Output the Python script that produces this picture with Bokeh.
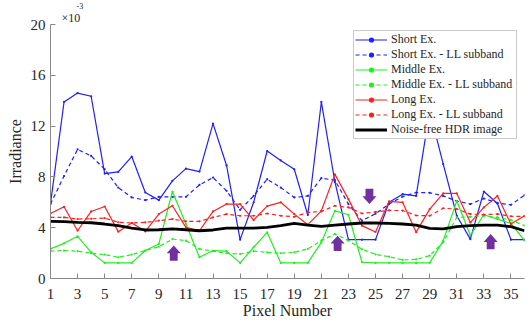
from bokeh.plotting import figure
from bokeh.models import Range1d, FixedTicker, Legend, LegendItem, Title
from bokeh.embed import file_html
from bokeh.resources import INLINE

# ---------------- data (irradiance in units of 1e-3) ----------------
pixel = list(range(1, 37))

short_ex = [5.9, 13.9, 14.6, 14.35, 8.26, 8.39, 9.6, 6.77, 6.17, 7.69, 8.65, 8.42,
            12.2, 8.9, 3.06, 6.0, 10.04, 9.3, 8.6, 5.0, 13.9, 7.6, 3.06, 3.06,
            3.06, 6.0, 6.64, 6.5, 13.2, 9.0, 4.94, 3.1, 6.85, 5.9, 3.06, 3.06]
short_ll = [5.86, 8.07, 10.17, 9.65, 8.6, 7.16, 6.38, 6.17, 6.43, 6.43, 6.43, 7.37,
            7.95, 6.9, 5.41, 6.5, 7.82, 7.16, 6.38, 6.5, 7.9, 7.74, 5.86, 4.55,
            5.1, 5.86, 6.45, 6.77, 6.75, 6.5, 6.1, 5.86, 6.3, 5.95, 5.8, 6.56]
middle_ex = [2.33, 2.77, 3.32, 2.06, 1.23, 1.23, 1.23, 2.2, 2.72, 6.85, 4.29, 1.67,
             2.2, 2.15, 1.23, 2.46, 3.63, 1.23, 1.23, 1.23, 2.85, 5.33, 5.02, 1.28,
             1.23, 1.23, 1.23, 1.23, 1.23, 2.98, 6.1, 3.4, 5.02, 4.68, 4.34, 2.98]
middle_ll = [2.15, 2.2, 2.15, 1.99, 1.88, 1.67, 1.88, 2.2, 2.5, 3.11, 2.98, 2.33,
             2.15, 1.99, 1.93, 2.15, 2.06, 1.99, 2.06, 2.33, 2.98, 3.5, 2.98, 2.3,
             1.9, 1.72, 1.46, 1.5, 1.8, 2.85, 4.81, 4.86, 4.94, 4.81, 4.6, 4.16]
long_ex = [5.12, 5.65, 3.76, 5.28, 5.67, 3.69, 4.37, 3.71, 5.07, 5.73, 4.03, 3.76,
           5.28, 5.86, 5.86, 4.6, 5.7, 6.0, 5.07, 4.24, 5.33, 8.2, 6.25, 4.16,
           3.66, 6.08, 6.0, 3.65, 5.46, 6.7, 6.7, 4.4, 5.6, 6.5, 4.29, 4.94]
long_ll = [4.81, 4.81, 4.68, 4.7, 4.76, 4.42, 4.37, 4.42, 4.55, 4.68, 4.5, 4.5,
           4.81, 5.07, 4.94, 4.94, 5.12, 4.94, 4.86, 5.2, 5.28, 5.73, 5.6, 5.12,
           5.24, 5.36, 5.35, 4.96, 4.94, 5.53, 5.47, 5.07, 5.03, 5.07, 4.9, 4.88]
hdr = [4.5, 4.48, 4.42, 4.39, 4.29, 4.16, 3.97, 3.82, 3.84, 3.9, 3.84, 3.76,
       3.82, 3.97, 3.97, 3.97, 4.03, 4.16, 4.34, 4.21, 4.1, 4.21, 4.29, 4.37,
       4.37, 4.34, 4.29, 4.2, 3.95, 3.9, 4.08, 4.16, 4.21, 4.21, 4.08, 3.76]

x_ticks = list(range(1, 37, 2))
y_ticks = [0, 4, 8, 12, 16, 20]

# purple marker arrows: x position, tip y, direction
arrow_x = [10.1, 22.2, 33.5, 24.55]
arrow_tip = [2.6, 3.37, 3.5, 5.86]
arrow_dir = ["up", "up", "up", "down"]

FONT = "Liberation Serif"

p = figure(width=530, height=324, output_backend="svg", toolbar_location=None,
           x_range=Range1d(1, 36), y_range=Range1d(0, 20),
           min_border_left=50, min_border_right=6, min_border_top=23,
           min_border_bottom=46)
p.outline_line_color = None
p.grid.visible = False
p.background_fill_color = "white"
p.border_fill_color = "white"

for ax, ticks, lab in ((p.xaxis[0], x_ticks, "Pixel Number"),
                       (p.yaxis[0], y_ticks, "Irradiance")):
    ax.ticker = FixedTicker(ticks=ticks)
    ax.axis_label = lab
    ax.axis_label_text_font = FONT
    ax.axis_label_text_font_size = "16px"
    ax.axis_label_text_font_style = "normal"
    ax.axis_label_text_color = "#262626"
    ax.major_label_text_font = FONT
    ax.major_label_text_font_size = "15px"
    ax.major_label_text_color = "#262626"
    ax.axis_line_color = "#8a8a8a"
    ax.major_tick_line_color = "#8a8a8a"
    ax.major_tick_in = 5
    ax.major_tick_out = 0
    ax.minor_tick_line_color = None
p.xaxis[0].major_label_standoff = 10
p.xaxis[0].axis_label_standoff = 0
p.yaxis[0].major_label_standoff = 5
p.yaxis[0].axis_label_standoff = 4

series = [
    ("Short Ex.", short_ex, "#1f1fff", "solid", 1.2),
    ("Short Ex. - LL subband", short_ll, "#1f1fff", "4 3", 1.2),
    ("Middle Ex.", middle_ex, "#22ee22", "solid", 1.2),
    ("Middle Ex. - LL subband", middle_ll, "#22ee22", "4 3", 1.2),
    ("Long Ex.", long_ex, "#ff1f1f", "solid", 1.2),
    ("Long Ex. - LL subband", long_ll, "#ff1f1f", "4 3", 1.2),
]

items = []
for name, vals, col, dash, lw in series:
    r1 = p.line(pixel, vals, line_color=col, line_width=lw, line_dash=dash)
    r2 = p.scatter(pixel, vals, size=2.2, fill_color=col, line_color=None)
    items.append(LegendItem(label=name, renderers=[r1, r2]))
rb = p.line(pixel, hdr, line_color="black", line_width=2.8)
items.append(LegendItem(label="Noise-free HDR image", renderers=[rb]))

# arrows built from their positions
xs, ys = [], []
hw, sw, hl, L = 0.52, 0.29, 0.62, 1.2
for ax_, tip, d in zip(arrow_x, arrow_tip, arrow_dir):
    s = -1 if d == "up" else 1
    base = tip + s * hl
    end = tip + s * L
    xs.append([ax_, ax_ - hw, ax_ - sw, ax_ - sw, ax_ + sw, ax_ + sw, ax_ + hw])
    ys.append([tip, base, base, end, end, base, base])
p.patches(xs, ys, fill_color="#7030a0", line_color=None)

legend = Legend(items=items, location=(303, 139))
legend.label_text_font = FONT
legend.label_text_font_size = "12px"
legend.label_text_color = "#262626"
legend.glyph_width = 32
legend.glyph_height = 13
legend.label_height = 13
legend.label_width = 124
legend.label_standoff = 4
legend.spacing = 0
legend.padding = 1
legend.margin = 0
legend.border_line_color = "#999999"
legend.border_line_width = 1
legend.background_fill_color = "white"
legend.background_fill_alpha = 1
p.add_layout(legend)

# axis multiplier  ×10^-3  above the y axis
p.add_layout(Title(text="×10", align="left", offset=11, standoff=0,
                   text_font=FONT, text_font_size="12px", text_font_style="normal",
                   text_color="#262626"), "above")
p.add_layout(Title(text="-3", align="left", offset=26, standoff=0,
                   text_font=FONT, text_font_size="8px", text_font_style="normal",
                   text_color="#262626"), "above")

open("out.html", "w").write(file_html(p, INLINE))
